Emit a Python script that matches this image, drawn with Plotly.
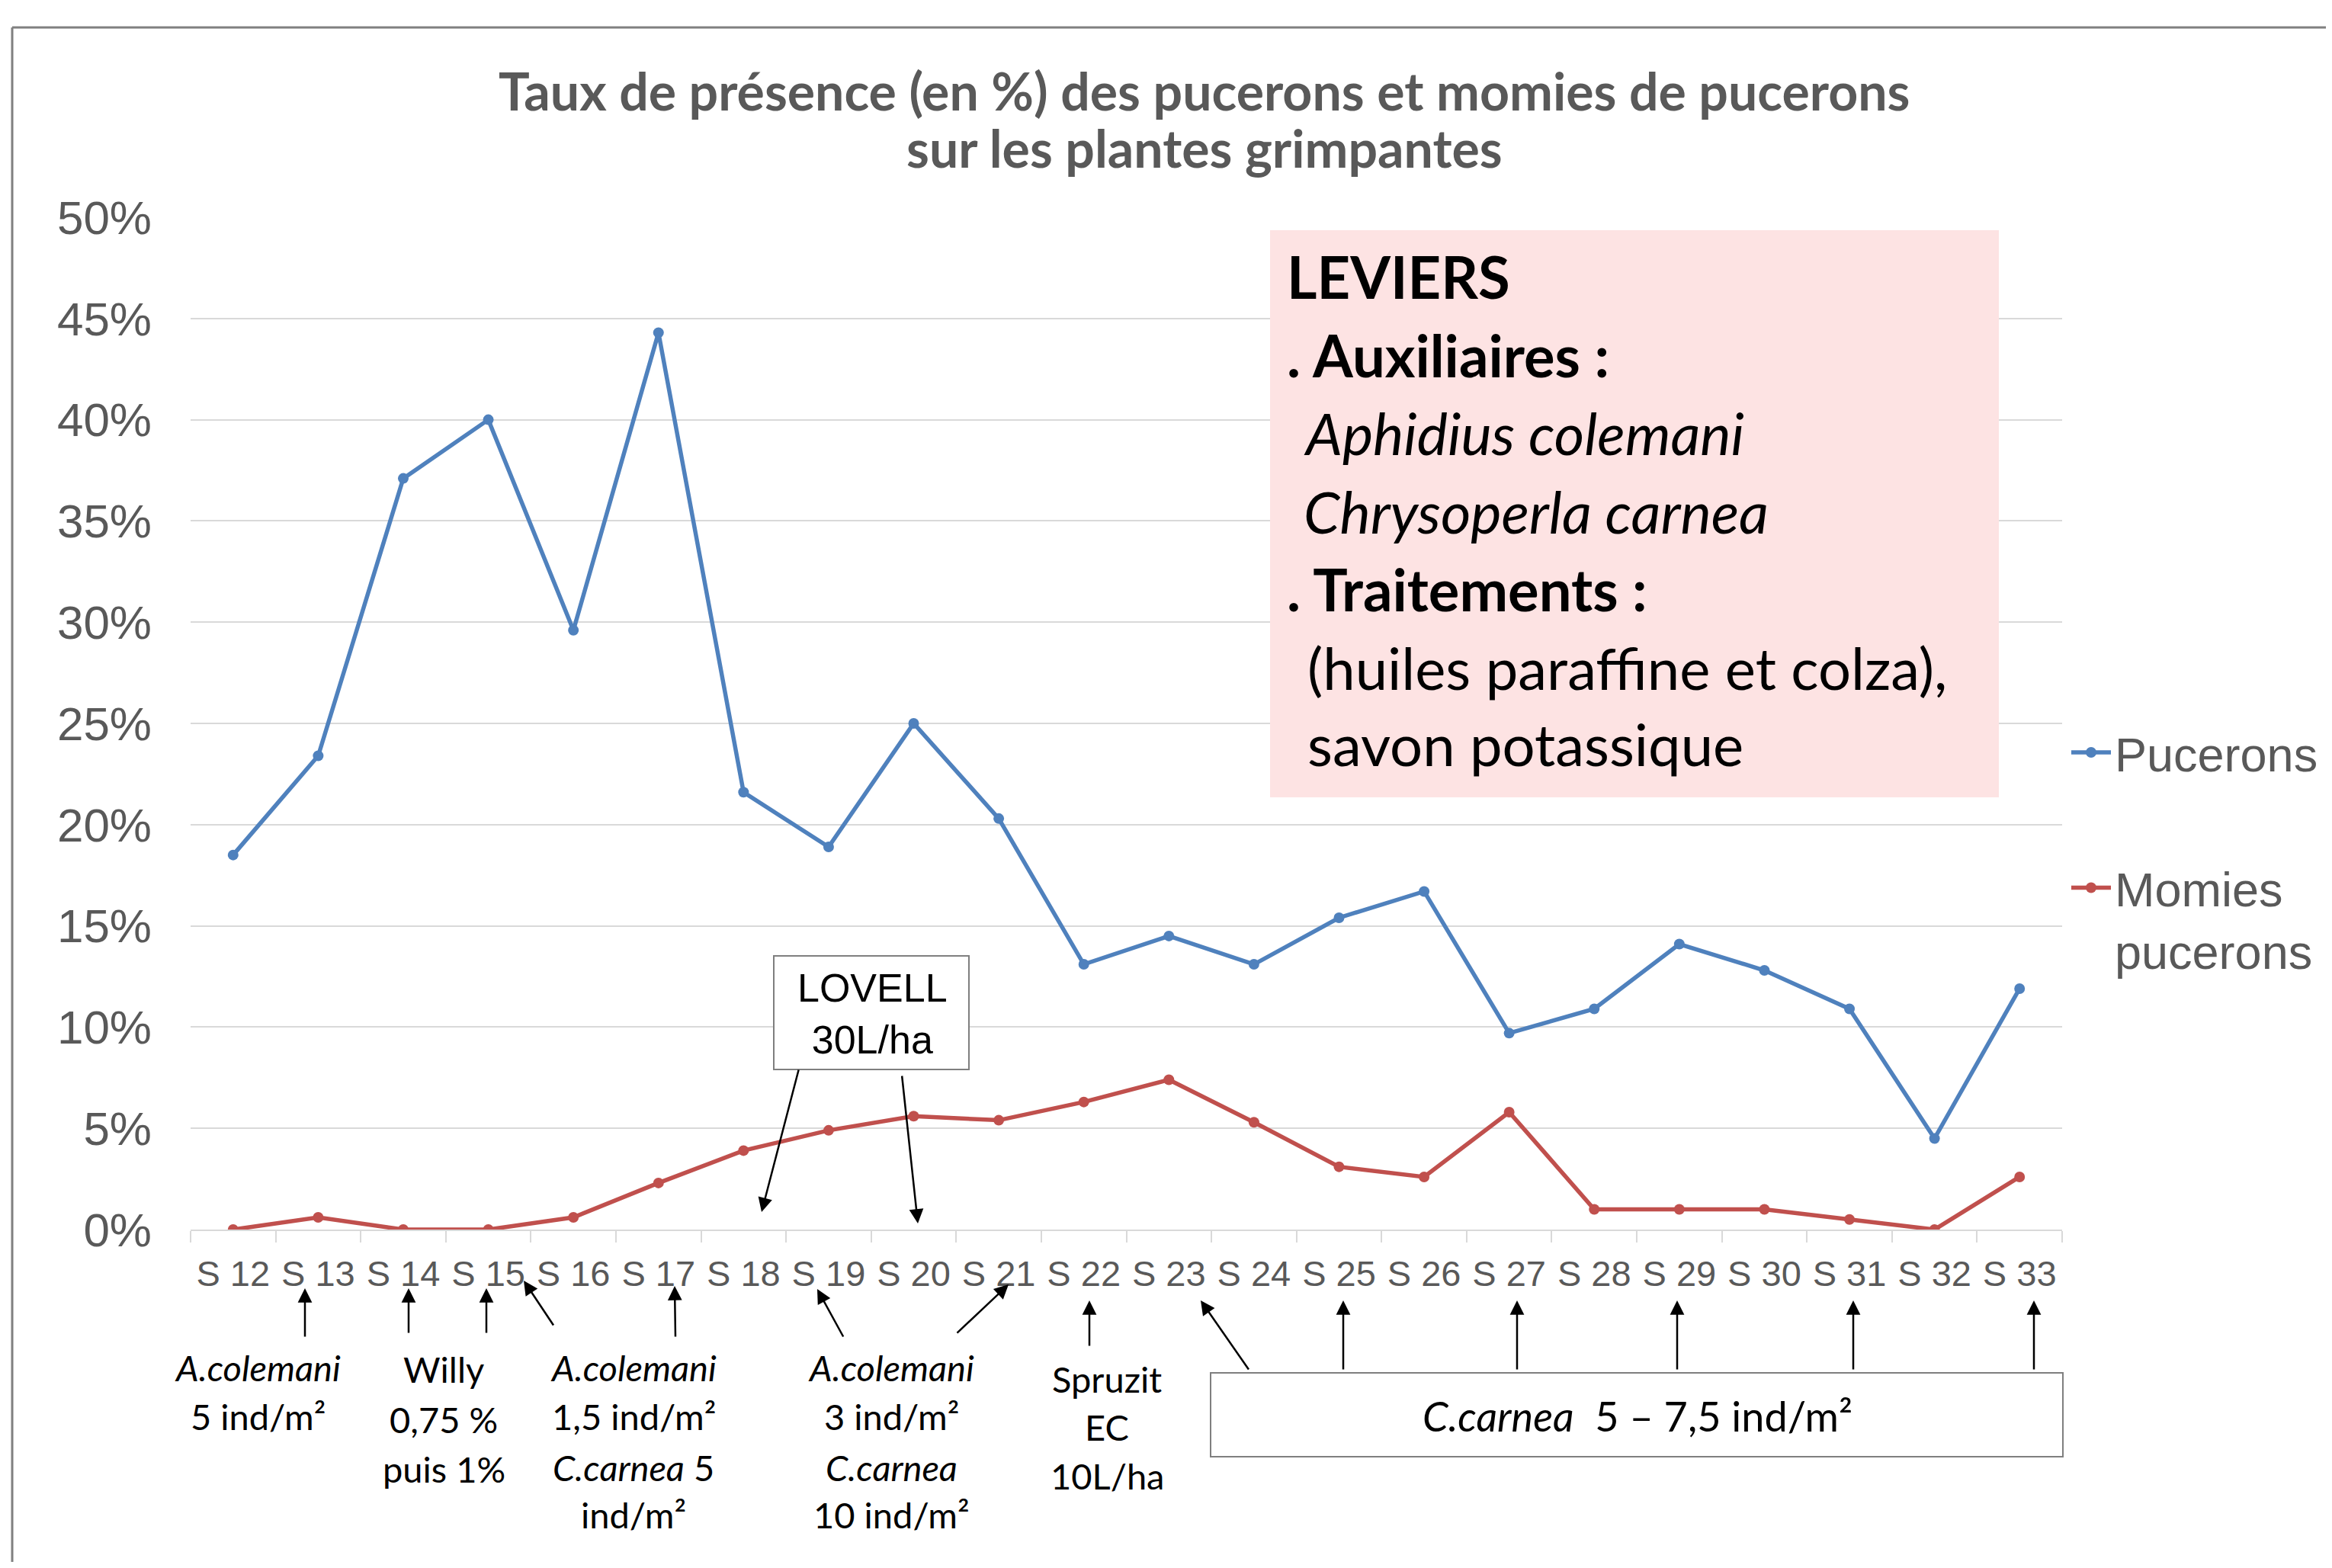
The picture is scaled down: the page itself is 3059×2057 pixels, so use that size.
import plotly.graph_objects as go

weeks = ["S 12", "S 13", "S 14", "S 15", "S 16", "S 17", "S 18", "S 19", "S 20", "S 21", "S 22",
         "S 23", "S 24", "S 25", "S 26", "S 27", "S 28", "S 29", "S 30", "S 31", "S 32", "S 33"]
pucerons = [18.5, 23.4, 37.1, 40.0, 29.6, 44.3, 21.6, 18.9, 25.0, 20.3, 13.1,
            14.5, 13.1, 15.4, 16.7, 9.7, 10.9, 14.1, 12.8, 10.9, 4.5, 11.9]
momies = [0.0, 0.6, 0.0, 0.0, 0.6, 2.3, 3.9, 4.9, 5.6, 5.4, 6.3,
          7.4, 5.3, 3.1, 2.6, 5.8, 1.0, 1.0, 1.0, 0.5, 0.0, 2.6]
y_ticks = [0, 5, 10, 15, 20, 25, 30, 35, 40, 45, 50]
y_ticktext = ["0%", "5%", "10%", "15%", "20%", "25%", "30%", "35%", "40%", "45%", "50%"]

# page has an 8px body margin; target coordinates are page pixels
OFF = 8
W, H = 3059 - 2 * OFF, 2057 - 2 * OFF
L, R, T, B = 250, 2705, 285, 1613   # plot area in page pixels

def px(x):
    return (x - L) / (R - L)

def py(y):
    return (B - y) / (B - T)

GRAY = "#595959"
GRID = "#D9D9D9"
BLUE = "#4F81BD"
RED = "#C0504D"
ARIAL = "Liberation Sans, Arial, sans-serif"
HUM = "Lato, Noto Sans, sans-serif"

fig = go.Figure()
fig.add_trace(go.Scatter(x=weeks, y=pucerons, mode="lines+markers", name="Pucerons",
                         line=dict(color=BLUE, width=5.5), marker=dict(color=BLUE, size=14),
                         legend="legend"))
fig.add_trace(go.Scatter(x=weeks, y=momies, mode="lines+markers", name="Momies<br>pucerons",
                         line=dict(color=RED, width=5.5), marker=dict(color=RED, size=14),
                         legend="legend2"))

shapes = []
annotations = []

# outer border (top and left lines)
shapes.append(dict(type="line", xref="paper", yref="paper", x0=px(16), x1=px(3100), y0=py(36), y1=py(36),
                   line=dict(color="#808080", width=3)))
shapes.append(dict(type="line", xref="paper", yref="paper", x0=px(16), x1=px(16), y0=py(36), y1=py(2100),
                   line=dict(color="#808080", width=3)))

# title
for txt, y in [("<b>Taux de présence (en %) des pucerons et momies de pucerons</b>", 118),
               ("<b>sur les plantes grimpantes</b>", 194)]:
    annotations.append(dict(xref="paper", yref="paper", x=px(1580), y=py(y), xanchor="center", yanchor="middle",
                            showarrow=False, text=txt, font=dict(family=HUM, size=68, color=GRAY)))

# LEVIERS box
shapes.append(dict(type="rect", xref="paper", yref="paper", x0=px(1666), x1=px(2622), y0=py(302), y1=py(1046),
                   fillcolor="#FDE3E3", line=dict(width=0), layer="above"))
lev_lines = [
    ("<b>LEVIERS</b>", 1686, 362),
    ("<b>. Auxiliaires :</b>", 1686, 465),
    ("<i>Aphidius colemani</i>", 1708, 567),
    ("<i>Chrysoperla carnea</i>", 1708, 670),
    ("<b>. Traitements :</b>", 1686, 772),
    ("(huiles paraffine et colza),", 1713, 875),
    ("savon potassique", 1713, 976),
]
for txt, x, y in lev_lines:
    annotations.append(dict(xref="paper", yref="paper", x=px(x), y=py(y), xanchor="left", yanchor="middle",
                            showarrow=False, text=txt, font=dict(family=HUM, size=76, color="black")))

# LOVELL box
shapes.append(dict(type="rect", xref="paper", yref="paper", x0=px(1015), x1=px(1271), y0=py(1254), y1=py(1403),
                   fillcolor="white", line=dict(color="#7F7F7F", width=2), layer="above"))
annotations.append(dict(xref="paper", yref="paper", x=px(1144), y=py(1330), xanchor="center", yanchor="middle",
                        showarrow=False, text="LOVELL<br>30L/ha", font=dict(family=ARIAL, size=52, color="black")))

# C.carnea box
shapes.append(dict(type="rect", xref="paper", yref="paper", x0=px(1588), x1=px(2706), y0=py(1801), y1=py(1911),
                   fillcolor="white", line=dict(color="#7F7F7F", width=2)))
annotations.append(dict(xref="paper", yref="paper", x=px(2148), y=py(1857), xanchor="center", yanchor="middle",
                        showarrow=False, text="<i>C.carnea</i>  5 – 7,5 ind/m²",
                        font=dict(family=HUM, size=54, color="black")))

# bottom labels, one annotation per line
labels = [
    (338, [("<i>A.colemani</i>", 1795), ("5 ind/m²", 1859)]),
    (582, [("Willy", 1797), ("0,75 %", 1863), ("puis 1%", 1928)]),
    (831, [("<i>A.colemani</i>", 1795), ("1,5 ind/m²", 1859), ("<i>C.carnea</i> 5", 1926), ("ind/m²", 1988)]),
    (1169, [("<i>A.colemani</i>", 1795), ("3 ind/m²", 1859), ("<i>C.carnea</i>", 1926), ("10 ind/m²", 1988)]),
    (1452, [("Spruzit", 1810), ("EC", 1873), ("10L/ha", 1937)]),
]
for x, lines in labels:
    for txt, y in lines:
        annotations.append(dict(xref="paper", yref="paper", x=px(x), y=py(y - 1), xanchor="center", yanchor="middle",
                                showarrow=False, text=txt, font=dict(family=HUM, size=47, color="black")))

# arrows: (head_x, head_y, tail_x, tail_y)
arrows = [
    (999, 1590, 1048, 1402),
    (1204, 1605, 1183, 1410),
    (400, 1690, 400, 1755),
    (536, 1690, 536, 1750),
    (638, 1690, 638, 1750),
    (687, 1680, 727, 1740),
    (885, 1687, 886, 1755),
    (1072, 1691, 1107, 1755),
    (1323, 1685, 1254, 1750),
    (1429, 1706, 1429, 1767),
    (1575, 1706, 1639, 1798),
    (1762, 1706, 1762, 1798),
    (1990, 1706, 1990, 1798),
    (2200, 1706, 2200, 1798),
    (2431, 1706, 2431, 1798),
    (2668, 1706, 2668, 1798),
]
for hx, hy, tx, ty in arrows:
    annotations.append(dict(xref="paper", yref="paper", x=px(hx), y=py(hy), ax=tx - hx, ay=ty - hy,
                            axref="pixel", ayref="pixel", text="", showarrow=True,
                            arrowhead=2, arrowsize=1.5, arrowwidth=2.5, arrowcolor="black", standoff=0))

fig.update_layout(
    width=W, height=H,
    margin=dict(l=L - OFF, r=W - (R - OFF), t=T - OFF, b=H - (B - OFF), pad=0, autoexpand=False),
    paper_bgcolor="white", plot_bgcolor="white",
    shapes=shapes, annotations=annotations,
    showlegend=True,
    legend=dict(x=px(2712), y=py(987), xanchor="left", yanchor="middle", bgcolor="rgba(0,0,0,0)",
                font=dict(family=ARIAL, size=63, color=GRAY), itemwidth=52),
    legend2=dict(x=px(2712), y=py(1117), xanchor="left", yanchor="top", valign="top", bgcolor="rgba(0,0,0,0)",
                 font=dict(family=ARIAL, size=63, color=GRAY), itemwidth=52),
    xaxis=dict(type="category", categoryorder="array", categoryarray=weeks, range=[-0.5, len(weeks) - 0.5],
               showgrid=False, showline=True, linecolor=GRID, linewidth=2,
               ticks="outside", tickson="boundaries", ticklen=15, tickcolor=GRID, tickwidth=2,
               tickfont=dict(family=ARIAL, size=47, color=GRAY), tickangle=0, ticklabelstandoff=16),
    yaxis=dict(range=[0, 50], tickvals=y_ticks, ticktext=y_ticktext, showgrid=True, gridcolor=GRID, gridwidth=2,
               zeroline=False, showline=False, ticks="",
               tickfont=dict(family=ARIAL, size=62, color=GRAY), ticklabelstandoff=50),
)

fig.write_html("out.html")
